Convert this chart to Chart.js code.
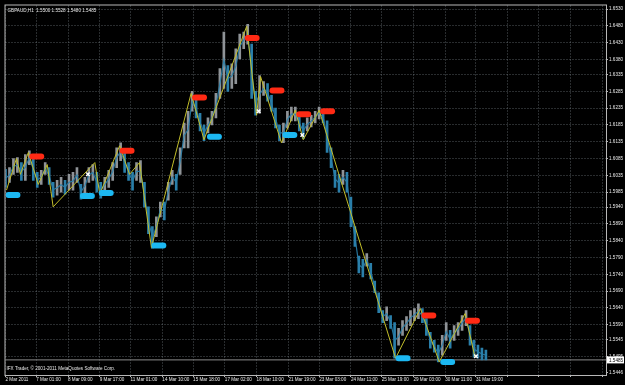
<!DOCTYPE html>
<html>
<head>
<meta charset="utf-8">
<script src="https://cdn.jsdelivr.net/npm/chart.js@4.4.0/dist/chart.umd.min.js"></script>
<style>
  html, body { margin: 0; padding: 0; background: #000; overflow: hidden; }
  #wrap { width: 625px; height: 385px; }
</style>
</head>
<body>
<div id="wrap"><canvas id="chart" width="625" height="385"></canvas></div>
<script>
// GBPAUD H1, sampled every 4 bars (x axis is in bars)
const step = 4;
const barHigh = [
  1.6053, 1.6058, 1.6085, 1.6088, 1.6073, 1.6097, 1.6108, 1.6088, 1.6044, 1.6050,
  1.6073, 1.6058, 1.6014, 1.6020, 1.6029, 1.6020, 1.6038, 1.6044, 1.6058, 1.6008,
  1.6029, 1.6058, 1.6067, 1.6044, 1.6014, 1.6029, 1.6050, 1.6073, 1.6117, 1.6132,
  1.6103, 1.6073, 1.6044, 1.6073, 1.6079, 1.6014, 1.5941, 1.5882, 1.5911, 1.5955,
  1.5955, 1.6014, 1.6050, 1.6038, 1.6117, 1.6191, 1.6226, 1.6285, 1.6259, 1.6220,
  1.6185, 1.6206, 1.6226, 1.6279, 1.6353, 1.6462, 1.6362, 1.6367, 1.6412, 1.6456,
  1.6462, 1.6485, 1.6426, 1.6285, 1.6332, 1.6314, 1.6308, 1.6273, 1.6235, 1.6185,
  1.6191, 1.6226, 1.6238, 1.6238, 1.6214, 1.6191, 1.6206, 1.6214, 1.6226, 1.6238,
  1.6226, 1.6197, 1.6117, 1.6050, 1.6038, 1.6050, 1.6044, 1.5970, 1.5882, 1.5794,
  1.5785, 1.5802, 1.5773, 1.5720, 1.5685, 1.5632, 1.5643, 1.5617, 1.5596, 1.5579,
  1.5602, 1.5614, 1.5632, 1.5638, 1.5652, 1.5638, 1.5608, 1.5567, 1.5543, 1.5529,
  1.5558, 1.5596, 1.5573, 1.5587, 1.5596, 1.5617, 1.5632, 1.5587, 1.5543, 1.5529,
  1.5520, 1.5514
];
const barLow = [
  1.5999, 1.6014, 1.6038, 1.6044, 1.6020, 1.6020, 1.6067, 1.6020, 1.5999, 1.6008,
  1.6038, 1.6008, 1.5970, 1.5976, 1.5985, 1.5979, 1.5991, 1.5991, 1.6014, 1.5964,
  1.5979, 1.6014, 1.6020, 1.5985, 1.5967, 1.5985, 1.5999, 1.6020, 1.6058, 1.6079,
  1.6044, 1.6020, 1.5991, 1.6020, 1.6014, 1.5941, 1.5861, 1.5817, 1.5852, 1.5911,
  1.5902, 1.5961, 1.6008, 1.5991, 1.6038, 1.6117, 1.6117, 1.6226, 1.6206, 1.6167,
  1.6138, 1.6161, 1.6185, 1.6206, 1.6264, 1.6294, 1.6285, 1.6294, 1.6308, 1.6382,
  1.6412, 1.6426, 1.6264, 1.6214, 1.6220, 1.6273, 1.6256, 1.6226, 1.6176, 1.6138,
  1.6132, 1.6176, 1.6197, 1.6197, 1.6167, 1.6144, 1.6167, 1.6179, 1.6191, 1.6203,
  1.6191, 1.6103, 1.6058, 1.5999, 1.5985, 1.6008, 1.5985, 1.5882, 1.5823, 1.5744,
  1.5732, 1.5764, 1.5726, 1.5685, 1.5626, 1.5596, 1.5602, 1.5579, 1.5490, 1.5529,
  1.5558, 1.5573, 1.5587, 1.5602, 1.5608, 1.5596, 1.5558, 1.5520, 1.5508, 1.5479,
  1.5499, 1.5543, 1.5520, 1.5543, 1.5558, 1.5573, 1.5587, 1.5529, 1.5493, 1.5490,
  1.5485, 1.5485
];

// zigzag turning points: bar index and price
const zigBars = [1, 11, 15, 23, 33, 42, 48, 90, 95, 115, 125, 135, 147, 187, 200, 243, 253, 257, 278, 292, 300, 316, 393, 418, 437, 463, 473];
const zigPrices = [1.5991, 1.6085, 1.6038, 1.6103, 1.6008, 1.6067, 1.5941, 1.6073, 1.5979, 1.6123, 1.6038, 1.6073, 1.5820, 1.6279, 1.6141, 1.6479, 1.6214, 1.6329, 1.6132, 1.6229, 1.6141, 1.6229, 1.5490, 1.5638, 1.5479, 1.5623, 1.5493];

// signal arrows
const redBars = [24, 115, 188, 241, 266, 293, 317, 419, 463];
const redPrices = [1.6091, 1.6108, 1.6267, 1.6444, 1.6288, 1.6217, 1.6226, 1.5617, 1.5602];
const blueBars = [0, 75, 94, 147, 203, 279, 393, 438];
const bluePrices = [1.5976, 1.5973, 1.5982, 1.5826, 1.6150, 1.6155, 1.5490, 1.5479];
const whiteBars = [83, 255, 299, 474];
const whitePrices = [1.6038, 1.6226, 1.6155, 1.5496];

const bidPrice = 1.5485;
const titleText = 'GBPAUD,H1  1.5500 1.5528 1.5480 1.5485';
const footerText = 'IFX Trader, \u00a9 2001-2011 MetaQuotes Software Corp.';

const xTickPos = [0, 31, 63, 95, 126, 158, 189, 221, 253, 285, 316, 348, 379, 411, 443, 474, 506, 537, 569, 601];
const xTickLabels = ['2 Mar 2011', '7 Mar 01:00', '8 Mar 09:00', '9 Mar 17:00', '11 Mar 01:00', '14 Mar 10:00',
  '15 Mar 18:00', '17 Mar 02:00', '18 Mar 10:00', '21 Mar 19:00', '23 Mar 03:00', '24 Mar 11:00',
  '25 Mar 19:00', '29 Mar 03:00', '30 Mar 11:00', '31 Mar 19:00'];
const yTickValues = [1.6530, 1.6480, 1.6430, 1.6380, 1.6335, 1.6285, 1.6235, 1.6185, 1.6135, 1.6085, 1.6035,
  1.5985, 1.5940, 1.5890, 1.5840, 1.5790, 1.5740, 1.5690, 1.5640, 1.5590, 1.5545, 1.5495, 1.5446];
const yBottomLabel = 1.5446;

const FONT = { family: 'Liberation Sans', size: 4.6 };
const gridColor = 'rgba(150,160,170,0.55)';
const markLen = 12;
const upColor = '#8f9397';
const downColor = '#2a7faa';

const barColors = barHigh.map((h, i) => {
  if (i === 0) return downColor;
  const mid = (h + barLow[i]) / 2, prev = (barHigh[i - 1] + barLow[i - 1]) / 2;
  return mid < prev ? downColor : upColor;
});

const markDataset = (bars, prices, color) => bars.map((b, i) => ({
  type: 'line',
  data: [{ x: b + 3, y: prices[i] }, { x: b + markLen, y: prices[i] }],
  borderColor: color,
  borderWidth: 6,
  borderCapStyle: 'round',
  pointRadius: 0,
  order: 1
}));

const framePlugin = {
  id: 'frame',
  beforeDraw: (chart) => {
    const { ctx, width, height } = chart;
    ctx.save();
    ctx.fillStyle = '#000';
    ctx.fillRect(0, 0, width, height);
    ctx.restore();
  },
  afterDraw: (chart) => {
    const { ctx, chartArea: a, scales } = chart;
    ctx.save();
    ctx.strokeStyle = '#b8b8b8';
    ctx.lineWidth = 1;
    ctx.strokeRect(a.left - 0.5, a.top - 0.5, a.right - a.left + 1, a.bottom - a.top + 1);

    ctx.font = `${FONT.size}px ${FONT.family}`;
    ctx.fillStyle = '#e8e8e8';
    ctx.textBaseline = 'middle';
    ctx.textAlign = 'left';
    ctx.fillText(titleText, a.left + 2, a.top + 5);
    ctx.fillText(footerText, a.left + 1, a.bottom - 6);

    // bid price box on the right axis
    const y = scales.y.getPixelForValue(bidPrice);
    ctx.fillStyle = '#ffffff';
    ctx.fillRect(a.right + 1, y - 3.5, 17, 7);
    ctx.fillStyle = '#000';
    ctx.fillText(bidPrice.toFixed(4), a.right + 3, y + 0.5);
    ctx.restore();
  }
};

const ctx = document.getElementById('chart').getContext('2d');
new Chart(ctx, {
  type: 'bar',
  data: {
    datasets: [
      {
        type: 'bar',
        data: barHigh.map((h, i) => ({ x: i * step, y: [barLow[i], h] })),
        backgroundColor: barColors,
        barThickness: 2,
        order: 5
      },
      {
        // thin trace through bar midpoints
        type: 'line',
        data: barHigh.map((h, i) => ({ x: i * step, y: (h + barLow[i]) / 2 })),
        borderColor: 'rgba(42,127,170,0.9)',
        borderWidth: 1.2,
        pointRadius: 0,
        tension: 0,
        order: 4
      },
      {
        type: 'line',
        data: [{ x: 0, y: bidPrice }, { x: 605, y: bidPrice }],
        borderColor: '#8a8a8a',
        borderWidth: 1,
        pointRadius: 0,
        order: 6
      },
      {
        type: 'line',
        data: zigBars.map((b, i) => ({ x: b, y: zigPrices[i] })),
        borderColor: '#c2be2a',
        borderWidth: 1,
        pointRadius: 0,
        tension: 0,
        order: 3
      },
      ...markDataset(redBars, redPrices, '#ff2a14'),
      ...markDataset(blueBars, bluePrices, '#1cb8f2'),
      {
        type: 'scatter',
        data: whiteBars.map((b, i) => ({ x: b, y: whitePrices[i] })),
        pointStyle: 'crossRot',
        pointRadius: 2.5,
        borderColor: '#ffffff',
        borderWidth: 1.5,
        order: 0
      }
    ]
  },
  options: {
    responsive: false,
    animation: false,
    events: [],
    layout: { padding: { left: 1, top: 1, right: 0, bottom: 0 } },
    plugins: { legend: { display: false }, tooltip: { enabled: false } },
    scales: {
      x: {
        type: 'linear',
        min: 0,
        max: 605,
        offset: false,
        grid: { offset: false, color: gridColor, tickLength: 2, tickColor: '#b8b8b8' },
        border: { display: false, dash: [1, 2] },
        afterBuildTicks: (scale) => { scale.ticks = xTickPos.map(v => ({ value: v })); },
        afterFit: (scale) => { scale.height = 10; scale.paddingLeft = 0; scale.paddingRight = 0; },
        ticks: {
          autoSkip: false,
          maxRotation: 0,
          minRotation: 0,
          align: 'start',
          padding: 0,
          color: '#e8e8e8',
          font: FONT,
          callback: (value, index) => xTickLabels[index] || ''
        }
      },
      y: {
        type: 'linear',
        position: 'right',
        min: 1.5440,
        max: 1.6541,
        grid: {
          color: (c) => (c.tick && c.tick.value === yBottomLabel ? 'transparent' : gridColor),
          tickLength: 2,
          tickColor: '#b8b8b8'
        },
        border: { display: false, dash: [1, 2] },
        afterBuildTicks: (scale) => { scale.ticks = yTickValues.map(v => ({ value: v })); },
        afterFit: (scale) => { scale.width = 19; scale.paddingTop = 0; scale.paddingBottom = 0; },
        ticks: {
          padding: 1,
          color: '#e8e8e8',
          font: FONT,
          callback: (value) => value.toFixed(4)
        }
      }
    }
  },
  plugins: [framePlugin]
});
</script>
</body>
</html>
